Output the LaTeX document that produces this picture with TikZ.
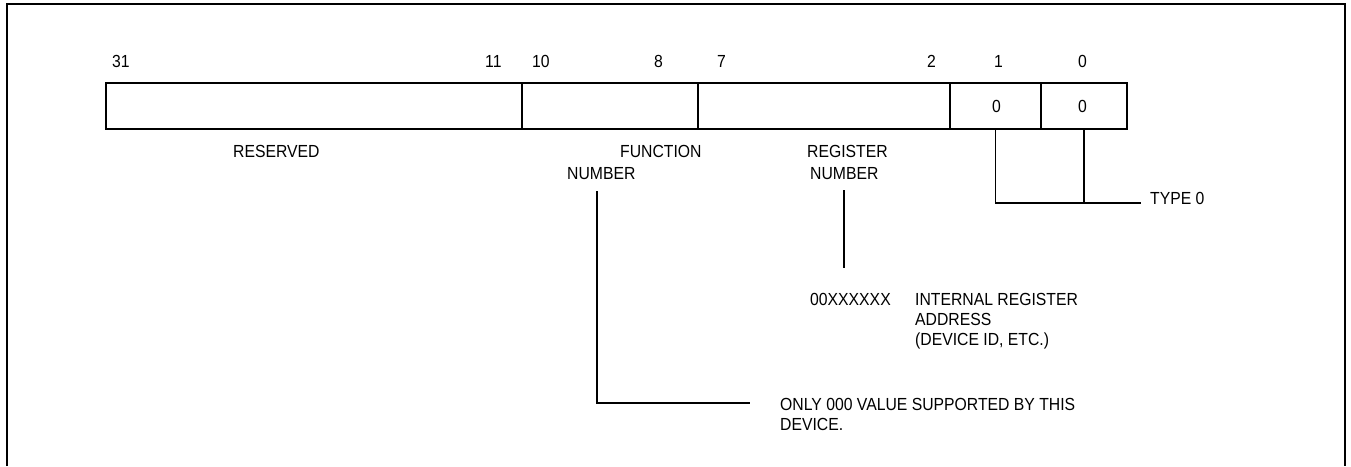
\documentclass[tikz,border=0pt]{standalone}
\usepackage{fontspec}
\setmainfont{Liberation Sans}[FakeStretch=0.9]
\begin{document}
\begin{tikzpicture}[x=1pt,y=-1pt,
  cell/.style={draw,line width=1.4pt,anchor=north west,inner sep=0pt,outer sep=0pt,minimum height=46pt},
  lbl/.style={anchor=base west,inner sep=0pt,font=\fontsize{17.5}{20}\selectfont},
  conn/.style={line width=1.4pt},
  frame/.style={line width=2.6pt}]
\useasboundingbox (0,0) rectangle (1351,466);
% frame
\coordinate (fbl) at (7,466);
\coordinate (ftl) at (7,4);
\coordinate (ftr) at (1345,4);
\coordinate (fbr) at (1345,466);
\draw[frame] (fbl) -- (ftl) -- (ftr) -- (fbr);
% register fields
\node[cell,minimum width=416pt] (res) at (106,83) {};
\node[cell,minimum width=176pt] (fn)  at (522,83) {};
\node[cell,minimum width=252pt] (reg) at (698,83) {};
\node[cell,minimum width=91pt]  (b1)  at (950,83) {};
\node[cell,minimum width=86pt]  (b0)  at (1041,83) {};
% bit numbers
\node[lbl] (n31) at (112,67) {31};
\node[lbl] (n11) at (485,67) {11};
\node[lbl] (n10) at (532,67) {10};
\node[lbl] (n8)  at (654,67) {8};
\node[lbl] (n7)  at (717,67) {7};
\node[lbl] (n2)  at (927,67) {2};
\node[lbl] (n1)  at (994,67) {1};
\node[lbl] (n0)  at (1078,67) {0};
% cell contents
\node[lbl] (v1) at (992,112) {0};
\node[lbl] (v0) at (1078,112) {0};
% field names
\node[lbl] (lres) at (233,157) {RESERVED};
\node[lbl] (lfn1) at (620,157) {FUNCTION};
\node[lbl] (lfn2) at (567,179) {NUMBER};
\node[lbl] (lrg1) at (807,157) {REGISTER};
\node[lbl] (lrg2) at (810,179) {NUMBER};
% annotations
\node[lbl] (xval) at (810,305) {00XXXXXX};
\node[lbl] (ira1) at (915,305) {INTERNAL REGISTER};
\node[lbl] (ira2) at (915,325) {ADDRESS};
\node[lbl] (ira3) at (915,345) {(DEVICE ID, ETC.)};
\node[lbl] (only1) at (780,410) {ONLY 000 VALUE SUPPORTED BY THIS};
\node[lbl] (only2) at (780,430) {DEVICE.};
\node[lbl] (type) at (1150,204) {TYPE 0};
% connectors
\coordinate (fntop) at (597,191);
\coordinate (fnend) at (750,403);
\draw[conn] (fntop) |- (fnend);
\coordinate (rgtop) at (844,190);
\coordinate (rgbot) at (844,268);
\draw[conn] (rgtop) -- (rgbot);
\coordinate (tend) at (1141,203);
\draw[conn] (b1.south) |- (tend);
\draw[conn] (b0.south) -- (b0.south |- tend);
\end{tikzpicture}
\end{document}
